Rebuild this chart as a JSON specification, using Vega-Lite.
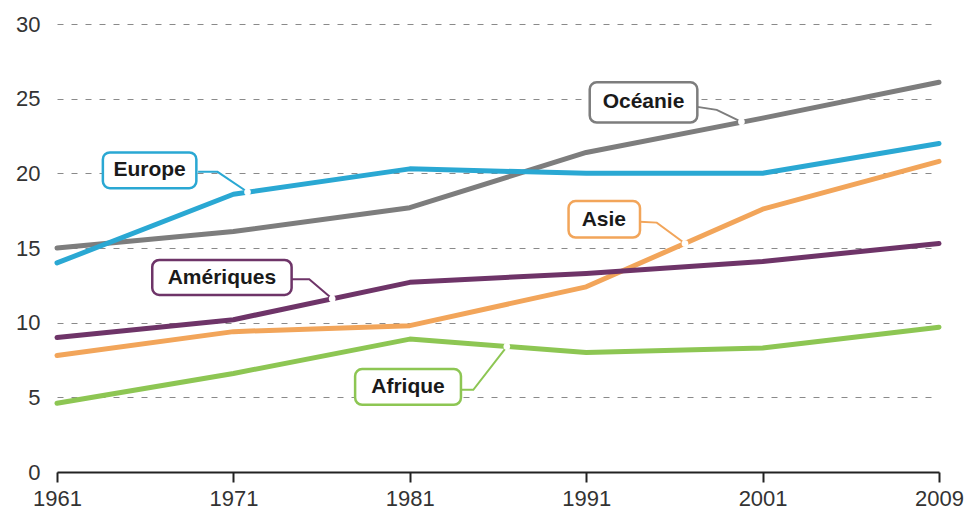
{
  "$schema": "https://vega.github.io/schema/vega-lite/v6.json",
  "width": 882,
  "height": 448,
  "autosize": {"type": "none"},
  "padding": {"left": 57, "top": 24, "right": 28, "bottom": 40},
  "background": "white",
  "config": {"view": {"stroke": null}, "font": "Liberation Sans"},
  "datasets": {
    "series": [
      {"region": "Océanie", "annee": 1961, "valeur": 15.0},
      {"region": "Océanie", "annee": 1971, "valeur": 16.1},
      {"region": "Océanie", "annee": 1981, "valeur": 17.7},
      {"region": "Océanie", "annee": 1991, "valeur": 21.4},
      {"region": "Océanie", "annee": 2001, "valeur": 23.7},
      {"region": "Océanie", "annee": 2009, "valeur": 26.1},
      {"region": "Afrique", "annee": 1961, "valeur": 4.6},
      {"region": "Afrique", "annee": 1971, "valeur": 6.6},
      {"region": "Afrique", "annee": 1981, "valeur": 8.9},
      {"region": "Afrique", "annee": 1991, "valeur": 8.0},
      {"region": "Afrique", "annee": 2001, "valeur": 8.3},
      {"region": "Afrique", "annee": 2009, "valeur": 9.7},
      {"region": "Asie", "annee": 1961, "valeur": 7.8},
      {"region": "Asie", "annee": 1971, "valeur": 9.4},
      {"region": "Asie", "annee": 1981, "valeur": 9.8},
      {"region": "Asie", "annee": 1991, "valeur": 12.4},
      {"region": "Asie", "annee": 2001, "valeur": 17.6},
      {"region": "Asie", "annee": 2009, "valeur": 20.8},
      {"region": "Amériques", "annee": 1961, "valeur": 9.0},
      {"region": "Amériques", "annee": 1971, "valeur": 10.2},
      {"region": "Amériques", "annee": 1981, "valeur": 12.7},
      {"region": "Amériques", "annee": 1991, "valeur": 13.3},
      {"region": "Amériques", "annee": 2001, "valeur": 14.1},
      {"region": "Amériques", "annee": 2009, "valeur": 15.3},
      {"region": "Europe", "annee": 1961, "valeur": 14.0},
      {"region": "Europe", "annee": 1971, "valeur": 18.6},
      {"region": "Europe", "annee": 1981, "valeur": 20.3},
      {"region": "Europe", "annee": 1991, "valeur": 20.0},
      {"region": "Europe", "annee": 2001, "valeur": 20.0},
      {"region": "Europe", "annee": 2009, "valeur": 22.0}
    ],
    "leaders": [
      {"region": "Europe", "ordre": 1, "annee": 1969.0, "valeur": 20.1},
      {"region": "Europe", "ordre": 2, "annee": 1970.1, "valeur": 20.1},
      {"region": "Europe", "ordre": 3, "annee": 1971.8, "valeur": 18.75},
      {"region": "Océanie", "ordre": 1, "annee": 1997.3, "valeur": 24.45},
      {"region": "Océanie", "ordre": 2, "annee": 1998.4, "valeur": 24.25},
      {"region": "Océanie", "ordre": 3, "annee": 1999.8, "valeur": 23.45},
      {"region": "Asie", "ordre": 1, "annee": 1994.05, "valeur": 16.75},
      {"region": "Asie", "ordre": 2, "annee": 1995.0, "valeur": 16.7},
      {"region": "Asie", "ordre": 3, "annee": 1996.6, "valeur": 15.3},
      {"region": "Amériques", "ordre": 1, "annee": 1974.3, "valeur": 12.9},
      {"region": "Amériques", "ordre": 2, "annee": 1975.3, "valeur": 12.9},
      {"region": "Amériques", "ordre": 3, "annee": 1976.6, "valeur": 11.6},
      {"region": "Afrique", "ordre": 1, "annee": 1983.8, "valeur": 5.5},
      {"region": "Afrique", "ordre": 2, "annee": 1984.6, "valeur": 5.5},
      {"region": "Afrique", "ordre": 3, "annee": 1986.5, "valeur": 8.4}
    ],
    "labels": [
      {"region": "Europe", "x1": 1963.6, "x2": 1968.9, "y1": 21.4, "y2": 19.0, "tx": 1966.25, "ty": 20.2},
      {"region": "Océanie", "x1": 1991.2, "x2": 1997.3, "y1": 26.1, "y2": 23.4, "tx": 1994.25, "ty": 24.75},
      {"region": "Asie", "x1": 1990.0, "x2": 1994.05, "y1": 18.15, "y2": 15.7, "tx": 1992.0, "ty": 16.9},
      {"region": "Amériques", "x1": 1966.4, "x2": 1974.3, "y1": 14.2, "y2": 11.85, "tx": 1970.35, "ty": 13.0},
      {"region": "Afrique", "x1": 1977.9, "x2": 1983.9, "y1": 6.9, "y2": 4.5, "tx": 1980.9, "ty": 5.7}
    ]
  },
  "encoding": {
    "x": {
      "field": "annee",
      "type": "quantitative",
      "scale": {
        "domain": [1961, 1971, 1981, 1991, 2001, 2009],
        "range": [0, 176.4, 352.8, 529.2, 705.6, 882],
        "nice": false,
        "zero": false
      },
      "axis": {
        "values": [1961, 1971, 1981, 1991, 2001, 2009],
        "format": "d",
        "title": null,
        "grid": false,
        "labelFontSize": 22,
        "labelColor": "#333333",
        "labelPadding": 6,
        "labelFlush": false,
        "domainColor": "#222222",
        "domainWidth": 2,
        "tickColor": "#222222",
        "tickWidth": 2,
        "tickSize": 10,
        "zindex": 1
      }
    },
    "y": {
      "field": "valeur",
      "type": "quantitative",
      "scale": {"domain": [0, 30], "nice": false},
      "axis": {
        "values": [0, 5, 10, 15, 20, 25, 30],
        "title": null,
        "domain": false,
        "ticks": false,
        "labelFontSize": 22,
        "labelColor": "#333333",
        "labelPadding": 17,
        "gridColor": "#8a8a8a",
        "gridDash": [6, 8],
        "gridWidth": 1
      }
    },
    "color": {
      "field": "region",
      "type": "nominal",
      "scale": {
        "domain": ["Océanie", "Europe", "Asie", "Amériques", "Afrique"],
        "range": ["#7d7d7d", "#2aa8d3", "#f2a55a", "#6e3468", "#8dc653"]
      },
      "legend": null
    }
  },
  "layer": [
    {
      "data": {"name": "series"},
      "mark": {"type": "line", "strokeWidth": 5, "interpolate": "linear", "strokeCap": "round", "strokeJoin": "round"}
    },
    {
      "data": {"name": "leaders"},
      "mark": {"type": "line", "strokeWidth": 2},
      "encoding": {"order": {"field": "ordre", "type": "quantitative"}}
    },
    {
      "data": {"name": "leaders"},
      "transform": [{"filter": "datum.ordre == 3"}],
      "mark": {"type": "point", "filled": true, "fill": "white", "size": 45, "strokeWidth": 1.5, "opacity": 1}
    },
    {
      "data": {"name": "labels"},
      "mark": {"type": "rect", "fill": "white", "strokeWidth": 2.5, "cornerRadius": 7},
      "encoding": {
        "x": {"field": "x1", "type": "quantitative"},
        "x2": {"field": "x2"},
        "y": {"field": "y1", "type": "quantitative"},
        "y2": {"field": "y2"},
        "color": null,
        "stroke": {"field": "region", "type": "nominal", "scale": {"domain": ["Océanie", "Europe", "Asie", "Amériques", "Afrique"], "range": ["#7d7d7d", "#2aa8d3", "#f2a55a", "#6e3468", "#8dc653"]}, "legend": null}
      }
    },
    {
      "data": {"name": "labels"},
      "mark": {"type": "text", "fontSize": 21, "fontWeight": "bold", "color": "#1a1a1a", "align": "center", "baseline": "middle"},
      "encoding": {
        "x": {"field": "tx", "type": "quantitative"},
        "y": {"field": "ty", "type": "quantitative"},
        "color": null,
        "text": {"field": "region", "type": "nominal"}
      }
    }
  ]
}
